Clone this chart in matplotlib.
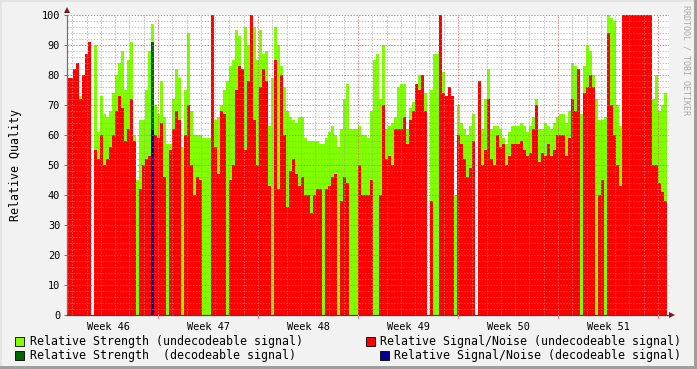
import numpy as np
import matplotlib
matplotlib.use('Agg')
import matplotlib.pyplot as plt
from matplotlib.patches import Rectangle, Polygon

nan = np.nan

# ---- data (one value per 0.21-day step) ----
step_days = 0.21

strength_undec = [
    78, 78, 80, 75, 73, 75, 80, 85, nan, 90, 61, 73, 67, 66, 68, 74, 80, 84, 88, 75,
    85, 91, 60, 45, 65, 65, 75, 88, 97, 70, 67, 78, 66, 57, 57, 72, 82, 79, 56, 75,
    94, 68, 60, 60, 60, 59, 59, 59, 65, 65,
    66, 70, 75, 78, 83, 85, 95, 93, 78, 96, 90, 100, 96, 85, 95, 87, 88, 63, 79, 96,
    90, 83, 76, 68, 66, 65, 64, 66, 66, 59, 58, 58, 58, 58, 57, 57, 59, 61, 63, 60,
    56, 62, 72, 77, 62, 62, 62, 63, 60, 60,
    59, 68, 85, 87, 72, 90, 62, 63, 64, 66, 76, 77, 77, 62, 69, 71, 74, 80, 80, 74,
    nan, 75, 87, 87, nan, 81, 73, 76, 73, 40, 70, 64, 62, 60, 63, 67, nan, 76, 62, 72,
    82, 62, 63, 63, 62, 59, 57, 61, 63, 63,
    63, 64, 63, 61, 63, 66, 72, 62, 62, 64, 63, 62, 64, 66, 67, 67, 64, 68, 84, 83,
    70, 67, 83, 90, 88, 80, 72, 65, 65, 66, 100, 99, 98, 70, 63, 90, 90, 90, 90, 90,
    90, 90, 90, 90, 90, 72, 80, 68, 70, 74,
]

snr_undec = [
    79, 79, 82, 84, 72, 80, 87, 91, nan, 55, 52, 60, 50, 52, 56, 60, 68, 73, 69, 58,
    62, 72, 58, nan, 42, 50, 52, 53, nan, 60, 59, 64, 46, nan, 55, 62, 68, 65, nan, 60,
    70, 50, 40, 46, 45, nan, nan, nan, 100, 56,
    47, 68, 67, nan, 45, 50, 75, 83, 82, 55, 78, 100, 65, 50, 76, 82, 78, 43, nan, 85,
    42, 80, 60, 36, 48, 52, 47, 43, 46, 40, 40, 34, 40, 42, 42, nan, 42, 43, 46, 47,
    nan, 38, 46, 44, nan, nan, nan, 50, 40, 40,
    40, 45, nan, nan, 40, 70, 52, 53, 50, 62, 62, 62, 66, 57, 65, 68, 77, 75, 80, 68,
    nan, 38, nan, nan, 100, 74, 73, 76, 73, nan, 60, 57, 52, 46, 49, 58, nan, 78, 50, 55,
    72, 52, 50, 60, 56, 57, 50, 53, 57, 57,
    57, 58, 55, 53, 54, 62, 70, 51, 54, 53, 57, 53, 55, 60, 60, 60, 53, 59, 72, 68,
    82, nan, 74, 76, 80, 76, nan, 40, 45, nan, 94, 70, 60, 50, 43, 100, 100, 100, 100, 100,
    100, 100, 100, 100, 100, 50, 50, 44, 41, 38,
]

dec_bins = [28]
strength_dec = [91]
snr_dec = [62]

week_labels = ['Week 46', 'Week 47', 'Week 48', 'Week 49', 'Week 50', 'Week 51']
week_label_days = [2.87, 9.87, 16.87, 23.87, 30.87, 37.87]
week_start_days = [6.37, 13.37, 20.37, 27.37, 34.37, 41.37]

legend_items = [
    ('Relative Strength (undecodeable signal)', '#80ff00'),
    ('Relative Strength  (decodeable signal)', '#006400'),
    ('Relative Signal/Noise (undecodeable signal)', '#ff0000'),
    ('Relative Signal/Noise (decodeable signal)', '#000090'),
]

# ---- figure ----
W, H = 697, 369
fig = plt.figure(figsize=(W / 100, H / 100), dpi=100, facecolor='#f2f2f2')
mono = 'DejaVu Sans Mono'

L, R, T, B = 67, 669, 15, 315
ax = fig.add_axes([L / W, (H - B) / H, (R - L) / W, (B - T) / H])
ax.set_facecolor('white')
xmax = (R - L) / (100 / 7)
ax.set_xlim(0, xmax)
ax.set_ylim(0, 100)

n = len(strength_undec)
x = np.arange(n) * step_days
ax.bar(x, strength_undec, width=step_days, align='edge', color='#80ff00',
       linewidth=0, antialiased=False, zorder=1)
ax.bar(x, snr_undec, width=step_days, align='edge', color='#ff0000',
       linewidth=0, antialiased=False, zorder=2)
xd = np.array(dec_bins) * step_days
ax.bar(xd, strength_dec, width=step_days, align='edge', color='#006400',
       linewidth=0, antialiased=False, zorder=3)
ax.bar(xd, snr_dec, width=step_days, align='edge', color='#000090',
       linewidth=0, antialiased=False, zorder=4)

# grid (drawn over the data like rrdtool)
minor_c = (0.62, 0.62, 0.62, 0.6)
major_c = (0.9, 0.4, 0.4, 0.8)
dot = (0, (1.4, 1.4))
d = week_start_days[0] % 1
while d < xmax:
    isweek = any(abs(d - w) < 1e-6 for w in week_start_days)
    ax.axvline(d, color=major_c if isweek else minor_c, lw=0.75, ls=dot, zorder=5)
    d += 1
for v in range(2, 101, 2):
    ax.axhline(v, color=major_c if v % 10 == 0 else minor_c, lw=0.75, ls=dot, zorder=5)

for s in ax.spines.values():
    s.set_visible(False)
ax.plot([0, 0], [0, 100], color='#707070', lw=0.9, zorder=6, clip_on=False)
ax.plot([0, xmax + 0.1], [0, 0], color='#404060', lw=0.9, zorder=6, clip_on=False)

ax.set_yticks(range(0, 101, 10))
ax.set_yticklabels([str(v) for v in range(0, 101, 10)], fontfamily=mono, fontsize=7.4)
ax.tick_params(axis='y', length=2, width=0.7, color='#707070', pad=3)
ax.set_xticks(week_label_days)
ax.set_xticklabels(week_labels, fontfamily=mono, fontsize=7.4)
ax.tick_params(axis='x', length=0, pad=5)
ax.set_ylabel('Relative Quality', fontfamily=mono, fontsize=8.4, labelpad=14)

# overlay in pixel coordinates
ov = fig.add_axes([0, 0, 1, 1], zorder=10)
ov.set_xlim(0, W)
ov.set_ylim(H, 0)
ov.axis('off')
ov.patch.set_alpha(0)

# frame shading
ov.add_patch(Rectangle((0, 0), W, 2, color='#e4e4e4', lw=0))
ov.add_patch(Rectangle((0, 0), 2, H, color='#e4e4e4', lw=0))
ov.add_patch(Rectangle((W - 3, 0), 3, H, color='#9e9e9e', lw=0))
ov.add_patch(Rectangle((0, H - 3), W, 3, color='#9e9e9e', lw=0))

# axis arrows
ov.add_patch(Polygon([[64, 13], [70, 13], [67, 7]], closed=True, color='#7a1a1a', lw=0))
ov.add_patch(Polygon([[669, 312], [669, 318], [675, 315]], closed=True, color='#7a1a1a', lw=0))

# week tick marks
for wd in week_start_days:
    px = L + wd * (100 / 7)
    if px < R:
        ov.plot([px, px], [315, 318], color='#ff8080', lw=0.8)

# legend
ov.add_patch(Rectangle((15, 337), 9, 9, facecolor=legend_items[0][1], edgecolor='black', lw=0.6))
ov.text(30, 341.5, legend_items[0][0], fontfamily=mono, fontsize=8.4, va='center', ha='left')
ov.add_patch(Rectangle((15, 351), 9, 9, facecolor=legend_items[1][1], edgecolor='black', lw=0.6))
ov.text(30, 355.5, legend_items[1][0], fontfamily=mono, fontsize=8.4, va='center', ha='left')
ov.add_patch(Rectangle((366, 337), 9, 9, facecolor=legend_items[2][1], edgecolor='black', lw=0.6))
ov.text(380, 341.5, legend_items[2][0], fontfamily=mono, fontsize=8.4, va='center', ha='left')
ov.add_patch(Rectangle((380, 351), 9, 9, facecolor=legend_items[3][1], edgecolor='black', lw=0.6))
ov.text(394, 355.5, legend_items[3][0], fontfamily=mono, fontsize=8.4, va='center', ha='left')

# watermark
ov.text(686, 5, 'RRDTOOL / TOBI OETIKER', fontfamily=mono, fontsize=6, color='#a8a8a8',
        rotation=-90, va='top', ha='center')

fig.savefig('out.png', dpi=100, facecolor=fig.get_facecolor())
